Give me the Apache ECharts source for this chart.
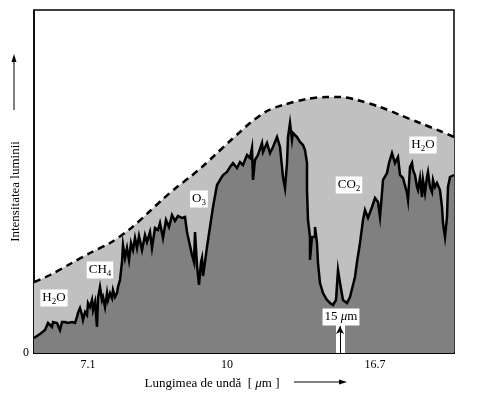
<!DOCTYPE html>
<html>
<head>
<meta charset="utf-8">
<script src="https://cdn.jsdelivr.net/npm/echarts@6/dist/echarts.min.js"></script>
<style>
html,body{margin:0;padding:0;background:#fff;}
#chart{width:491px;height:396px;}
</style>
</head>
<body>
<div id="chart"></div>
<script>
// x: position along the wavelength axis (arbitrary units), y: light intensity (arbitrary units)
var spectrumX = [0,6,11,14,16,18,19,23,26,28,31,34,38,41,43,44,46,48,49,51,53,54,56,58,59,61,63,64,66,68,69,71,73,74,76,78,79,81,83,84,86,88,89,91,93,95,97,99,101,103,105,108,111,113,116,118,121,124,126,129,132,135,138,141,144,148,151,153,158,160,161,163,165,167,168,169,171,173,176,179,183,186,189,193,196,199,203,206,209,213,216,218,219,221,224,228,229,233,236,239,243,246,248,249,251,253,254,256,258,259,263,266,269,271,273,273,274,276,276,278,281,281,283,284,286,289,293,296,299,302,304,306,309,313,316,321,323,326,329,331,334,338,341,344,346,348,349,353,355,358,359,361,364,366,369,373,374,376,378,379,381,383,384,386,388,389,391,393,394,396,398,399,401,403,406,408,409,411,413,414,416,420];
var spectrumY = [15,19,23,30,31,26,31,30,23,31,31,30,31,30,36,40,45,38,33,41,38,50,46,53,43,51,26,55,66,53,56,46,60,53,60,55,63,56,60,66,73,91,108,95,105,93,110,103,115,105,117,103,118,111,121,105,125,123,130,115,133,126,138,132,137,135,136,121,98,91,121,88,68,91,95,77,91,106,126,146,168,173,178,181,186,190,185,191,188,198,195,205,173,193,198,210,201,210,200,206,216,206,186,176,165,190,216,230,213,220,216,211,208,203,190,163,133,116,93,116,116,126,110,90,70,60,53,50,48,53,83,70,53,50,56,76,91,110,133,143,135,146,155,151,136,160,173,180,190,200,201,190,196,178,175,160,153,186,190,183,178,166,163,175,156,173,160,176,181,166,161,173,166,170,163,146,130,116,136,166,176,178];
var envelopeX = [0,16,36,56,76,96,116,129,143,156,168,181,196,206,216,233,249,273,293,306,323,346,366,386,406,420];
var envelopeY = [71,78,89,100,110,124,142,154,166,176,186,198,212,221,230,242,248,254,256,256,253,246,238,230,222,216];
var tickValues = [54,123,193,262,341];
var tickLabels = ['7.1','','10','','16.7'];
var marker15 = 306;          // position of 15 μm on the wavelength axis
var markerStrip = [302, 311]; // extent of the white 15 μm window
var markerTop = 28;
var yMax = 343;

function pairs(xs, ys){ return xs.map(function(x,i){ return [x, ys[i]]; }); }

var FONT = 'Liberation Serif';
var rich = {
  n:{fontFamily:FONT,fontSize:13,color:'#000',lineHeight:17},
  s:{fontFamily:FONT,fontSize:9,color:'#000',lineHeight:9,verticalAlign:'bottom'},
  i:{fontFamily:FONT,fontSize:13,color:'#000',lineHeight:17,fontStyle:'italic'}
};
function molLabel(coord, text){
  return {coord:coord, symbol:'rect', symbolSize:0,
    label:{show:true, position:'inside', formatter:text, rich:rich,
      backgroundColor:'#fff', padding:[0,2,0,2]}};
}

var chart = echarts.init(document.getElementById('chart'), null, {renderer:'canvas'});
chart.setOption({
  animation:false,
  backgroundColor:'#fff',
  textStyle:{fontFamily:FONT},
  grid:{left:34,right:37,top:10,bottom:43,show:true,borderColor:'#000',borderWidth:1.5,containLabel:false,outerBoundsMode:'none'},
  xAxis:{
    type:'value', min:0, max:420,
    name:'Lungimea de undă  [ {i|μ}m ]',
    nameLocation:'middle', nameGap:24,
    nameTextStyle:{fontFamily:FONT,fontSize:13,color:'#000',padding:[0,64,0,0],
      rich:{i:{fontFamily:FONT,fontSize:13,color:'#000',fontStyle:'italic'}}},
    axisLine:{show:true,lineStyle:{color:'#000',width:2}},
    axisTick:{show:true,inside:true,length:10,customValues:tickValues,lineStyle:{color:'#000',width:1}},
    axisLabel:{customValues:tickValues,margin:6,fontFamily:FONT,fontSize:12,color:'#000',
      formatter:function(v){ var k=tickValues.indexOf(v); return k>=0?tickLabels[k]:''; }},
    splitLine:{show:false}
  },
  yAxis:{
    type:'value', min:0, max:yMax, interval:yMax,
    name:'Intensitatea luminii', nameLocation:'middle', nameGap:12, nameRotate:90,
    nameMoveOverlap:false,
    nameTextStyle:{fontFamily:FONT,fontSize:13,color:'#000',padding:[0,20,0,0]},
    axisLine:{show:true,lineStyle:{color:'#000',width:1.5}},
    axisTick:{show:false},
    axisLabel:{margin:5,fontFamily:FONT,fontSize:12,color:'#000',
      formatter:function(v){ return v===0?'0':''; }},
    splitLine:{show:false}
  },
  series:[
    {type:'line', name:'envelope', data:pairs(envelopeX,envelopeY), smooth:0.3, symbol:'none', z:1,
      lineStyle:{color:'#000',width:2.5,type:[7,5]},
      areaStyle:{color:'#c0c0c0',opacity:1}},
    {type:'line', name:'spectrum', data:pairs(spectrumX,spectrumY), symbol:'none', z:2,
      lineStyle:{color:'#000',width:2.5,join:'miter'},
      areaStyle:{color:'#808080',opacity:1}},
    {type:'line', name:'window', data:[[markerStrip[0],markerTop],[markerStrip[1],markerTop]], symbol:'none', z:4,
      lineStyle:{width:0}, areaStyle:{color:'#fff',opacity:1}, silent:true},
    {type:'line', name:'notes', data:[[marker15,0]], symbol:'none', z:5,
      lineStyle:{width:0},
      markLine:{silent:true, symbol:['none','arrow'], symbolSize:[6,8],
        lineStyle:{color:'#000',width:1,type:'solid'}, label:{show:false},
        data:[[{coord:[marker15,0]},{coord:[marker15,27]}]]},
      markPoint:{silent:true,
        data:[
          molLabel([20,55],'{n|H}{s|2}{n|O}'),
          molLabel([66,83],'{n|CH}{s|4}'),
          molLabel([165,154],'{n|O}{s|3}'),
          molLabel([315,168],'{n|CO}{s|2}'),
          molLabel([389,208],'{n|H}{s|2}{n|O}'),
          molLabel([307,36],'{n|15 }{i|μ}{n|m}')
        ]}
    }
  ],
  graphic:[
    {type:'line', shape:{x1:14,y1:110,x2:14,y2:60}, style:{stroke:'#000',lineWidth:1}},
    {type:'polygon', shape:{points:[[14,54],[11.5,62],[16.5,62]]}, style:{fill:'#000'}},
    {type:'line', shape:{x1:294,y1:382,x2:341,y2:382}, style:{stroke:'#000',lineWidth:1}},
    {type:'polygon', shape:{points:[[347,382],[339,379.5],[339,384.5]]}, style:{fill:'#000'}}
  ]
});
</script>
</body>
</html>
